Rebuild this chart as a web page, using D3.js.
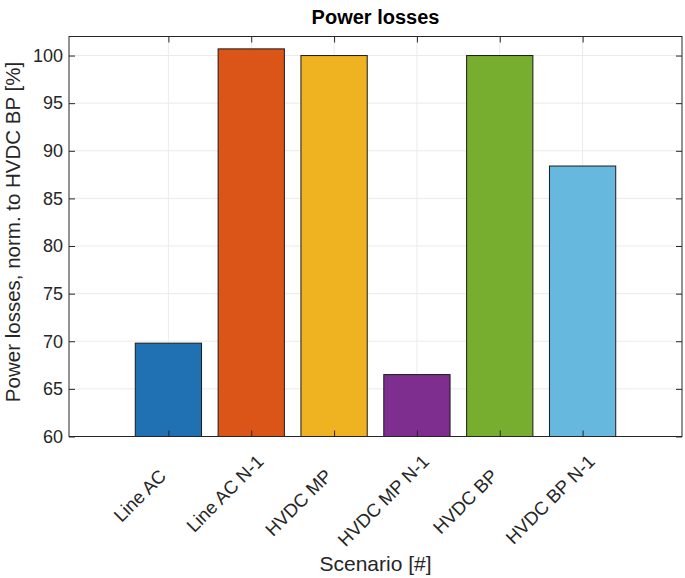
<!DOCTYPE html>
<html><head><meta charset="utf-8">
<script src="https://cdn.jsdelivr.net/npm/d3@7"></script>
<style>body{margin:0;background:#fff;} svg{display:block;font-family:"Liberation Sans",Arial,sans-serif;}</style>
</head><body>
<svg id="c" width="685" height="578"></svg>
<script>
const categories = ["Line AC","Line AC N-1","HVDC MP","HVDC MP N-1","HVDC BP","HVDC BP N-1"];
const values = [69.8, 100.7, 100.0, 66.5, 100.0, 88.4];
const colors = ["#2070b4","#dc5518","#efb221","#7e2e8e","#78ae30","#67b8de"];
const yTicks = [60,65,70,75,80,85,90,95,100];

const svg = d3.select("#c");
const L = 69, R = 682, T = 36.5, B = 436.5;
const x = d3.scaleLinear().domain([-0.2, 7.2]).range([L, R]);
const y = d3.scaleLinear().domain([60, 102]).range([B, T]);
const pos = categories.map((d,i)=>i+1);

// grid
const g = svg.append("g");
g.selectAll(".gx").data(pos).enter().append("line")
 .attr("x1",d=>x(d)).attr("x2",d=>x(d)).attr("y1",T).attr("y2",B)
 .attr("stroke","#ebebeb").attr("stroke-width",1);
g.selectAll(".gy").data(yTicks).enter().append("line")
 .attr("x1",L).attr("x2",R).attr("y1",d=>y(d)).attr("y2",d=>y(d))
 .attr("stroke","#ebebeb").attr("stroke-width",1);

// bars
const bw = 0.8;
svg.selectAll(".bar").data(values).enter().append("rect")
 .attr("x",(d,i)=>x(pos[i]-bw/2)).attr("width",x(bw)-x(0))
 .attr("y",d=>y(d)).attr("height",d=>y(60)-y(d))
 .attr("fill",(d,i)=>colors[i]).attr("stroke","#1a1a1a").attr("stroke-width",1);

// axes
const axL = d3.axisLeft(y).tickValues(yTicks).tickSizeInner(-6).tickSizeOuter(0).tickPadding(6);
const axR = d3.axisRight(y).tickValues(yTicks).tickSizeInner(-6).tickSizeOuter(0).tickFormat("");
const axB = d3.axisBottom(x).tickValues(pos).tickSizeInner(-6).tickSizeOuter(0).tickFormat("");
const axT = d3.axisTop(x).tickValues(pos).tickSizeInner(-6).tickSizeOuter(0).tickFormat("");
function style(sel){ sel.selectAll("path,line").attr("stroke","#262626"); sel.select(".domain").remove(); }
svg.append("g").attr("transform",`translate(${L},0)`).call(axL).call(style)
  .selectAll("text").attr("font-size",18).attr("fill","#262626").attr("font-family","Liberation Sans, Arial, sans-serif");
svg.append("g").attr("transform",`translate(${R},0)`).call(axR).call(style);
svg.append("g").attr("transform",`translate(0,${B})`).call(axB).call(style);
svg.append("g").attr("transform",`translate(0,${T})`).call(axT).call(style);
svg.append("rect").attr("x",L).attr("y",T).attr("width",R-L).attr("height",B-T)
 .attr("fill","none").attr("stroke","#262626").attr("stroke-width",1);

// x tick labels rotated (char-matrix style padding to equal length)
const maxLen = d3.max(categories, d=>d.length);
svg.selectAll(".xl").data(categories).enter().append("text")
 .attr("transform",(d,i)=>`translate(${x(pos[i])},${B}) rotate(-45)`)
 .attr("x",-9).attr("y",28)
 .attr("text-anchor","end").style("white-space","pre")
 .attr("font-size",18.5).attr("fill","#262626").text(d=>d.padEnd(maxLen," "));

// titles
svg.append("text").attr("x",(L+R)/2).attr("y",24).attr("text-anchor","middle")
 .attr("font-size",20).attr("font-weight","bold").attr("fill","#000").text("Power losses");
svg.append("text").attr("x",(L+R)/2).attr("y",571).attr("text-anchor","middle")
 .attr("font-size",21).attr("fill","#262626").text("Scenario [#]");
svg.append("text").attr("transform",`translate(19.5,232) rotate(-90)`).attr("text-anchor","middle")
 .attr("font-size",20.5).attr("fill","#262626").text("Power losses, norm. to HVDC BP [%]");
</script>
</body></html>
